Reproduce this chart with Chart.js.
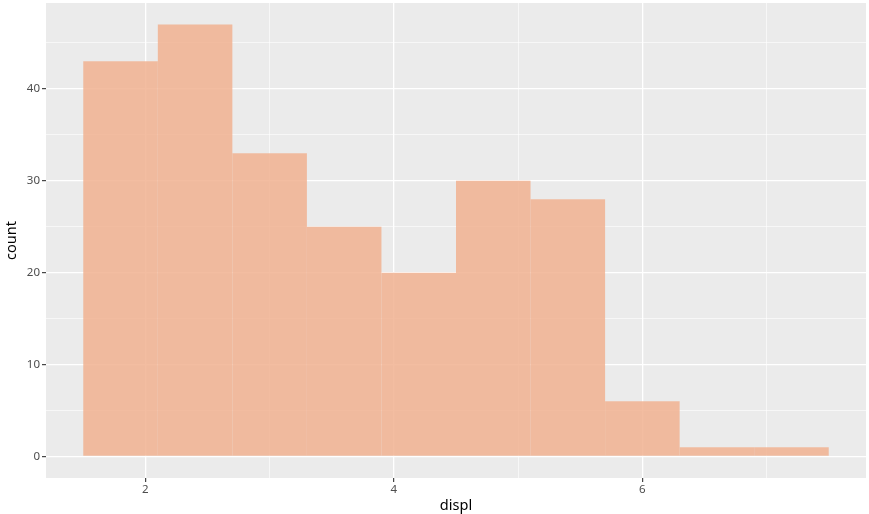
<!DOCTYPE html>
<html><head><meta charset="utf-8">
<script src="https://cdn.jsdelivr.net/npm/chart.js@4"></script>
<style>html,body{margin:0;padding:0;background:#fff}#wrap{width:869px;height:514px}</style>
</head><body><div id="wrap"><canvas id="c" width="869" height="514"></canvas></div>
<script>
const binCenters = [1.8, 2.4, 3.0, 3.6, 4.2, 4.8, 5.4, 6.0, 6.6, 7.2];
const counts = [43, 47, 33, 25, 20, 30, 28, 6, 1, 1];
const xTicks = [2, 3, 4, 5, 6, 7];
const xLabels = [2, 4, 6];
const yTicks = [0, 5, 10, 15, 20, 25, 30, 35, 40, 45];
const yLabels = [0, 10, 20, 30, 40];

const panelBg = {
  id: 'panelBg',
  beforeDraw(chart) {
    const a = chart.chartArea, ctx = chart.ctx;
    ctx.save(); ctx.fillStyle = '#EBEBEB';
    ctx.fillRect(a.left, a.top, a.right - a.left, a.bottom - a.top);
    ctx.restore();
  }
};
const tv = c => (c && c.tick) ? c.tick.value : NaN;
const isMajorX = v => xLabels.includes(v);
const isMajorY = v => yLabels.includes(v);
const font = {family: '"Noto Sans", sans-serif', size: 11.5};

new Chart(document.getElementById('c'), {
  type: 'bar',
  data: {
    datasets: [{
      data: binCenters.map((x, i) => ({x: x, y: counts[i]})),
      backgroundColor: 'rgba(241,177,144,0.85)',
      borderWidth: 0,
      inflateAmount: 0,
      barPercentage: 1.0,
      categoryPercentage: 1.0,
      grouped: false
    }]
  },
  options: {
    responsive: false,
    animation: false,
    layout: {padding: {top: 3, right: 3, left: 0, bottom: 0}},
    plugins: {legend: {display: false}, tooltip: {enabled: false}},
    scales: {
      x: {
        type: 'linear', min: 1.2, max: 7.8, offset: false,
        afterBuildTicks: s => { s.ticks = xTicks.map(v => ({value: v})); },
        afterFit: s => { s.height = 36; s.paddingLeft = 0; s.paddingRight = 0; },
        border: {display: false},
        grid: {
          offset: false,
          color: '#FFFFFF',
          lineWidth: c => isMajorX(tv(c)) ? 1.3 : 0.6,
          tickColor: c => isMajorX(tv(c)) ? '#333333' : 'rgba(0,0,0,0)',
          tickLength: 4, tickWidth: 1.1
        },
        ticks: {
          callback: v => isMajorX(v) ? String(v) : '',
          color: '#4D4D4D', font: font, padding: 1, maxRotation: 0, autoSkip: false
        },
        title: {display: true, text: 'displ', color: '#000', font: {family: '"Noto Sans", sans-serif', size: 14.5}, padding: {top: 0, bottom: -1}}
      },
      y: {
        type: 'linear', min: -2.35, max: 49.35,
        afterBuildTicks: s => { s.ticks = yTicks.map(v => ({value: v})); },
        afterFit: s => { s.width = 46; s.paddingTop = 0; s.paddingBottom = 0; },
        border: {display: false},
        grid: {
          color: '#FFFFFF',
          lineWidth: c => isMajorY(tv(c)) ? 1.3 : 0.6,
          tickColor: c => isMajorY(tv(c)) ? '#333333' : 'rgba(0,0,0,0)',
          tickLength: 4, tickWidth: 1.1
        },
        ticks: {
          callback: v => isMajorY(v) ? String(v) : '',
          color: '#4D4D4D', font: font, padding: 2, autoSkip: false
        },
        title: {display: true, text: 'count', color: '#000', font: {family: '"Noto Sans", sans-serif', size: 14.5}, padding: {top: 3, bottom: 0}}
      }
    }
  },
  plugins: [panelBg]
});
</script></body></html>
